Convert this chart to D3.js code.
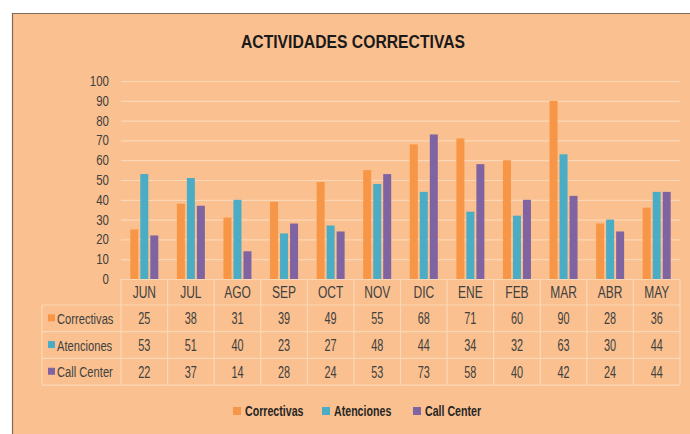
<!DOCTYPE html>
<html>
<head>
<meta charset="utf-8">
<script src="https://cdn.jsdelivr.net/npm/d3@7"></script>
<style>
  body { margin: 0; background: #fff; }
  svg text { font-family: "Liberation Sans", Arial, sans-serif; }
</style>
</head>
<body>
<div id="chart"></div>
<script>
const months = ['JUN', 'JUL', 'AGO', 'SEP', 'OCT', 'NOV', 'DIC', 'ENE', 'FEB', 'MAR', 'ABR', 'MAY'];
const seriesNames = ['Correctivas', 'Atenciones', 'Call Center'];
const correctivas = [25, 38, 31, 39, 49, 55, 68, 71, 60, 90, 28, 36];
const atenciones = [53, 51, 40, 23, 27, 48, 44, 34, 32, 63, 30, 44];
const callCenter = [22, 37, 14, 28, 24, 53, 73, 58, 40, 42, 24, 44];
const yTicks = [0, 10, 20, 30, 40, 50, 60, 70, 80, 90, 100];
const colors = ['#F79646', '#4BACC6', '#8064A2'];

const series = [correctivas, atenciones, callCenter];
const W = 690, H = 434;
const textColor = '#404040';
const gridColor = '#FCD7B6';

const svg = d3.select('#chart').append('svg')
  .attr('width', W).attr('height', H);

// no narrow font installed, so squeeze the regular one horizontally
function narrowText(parent, px, py, str, size, sx, anchor) {
  return parent.append('text')
    .attr('transform', `translate(${px},${py}) scale(${sx},1)`)
    .attr('text-anchor', anchor || 'start')
    .attr('font-size', size)
    .attr('fill', textColor)
    .text(str);
}

// chart area
svg.append('rect').attr('x', 12).attr('y', 13).attr('width', W - 12).attr('height', H - 13)
  .attr('fill', '#FAC08F');
svg.append('path').attr('d', `M12.5,${H}V13.5H${W}`)
  .attr('fill', 'none').attr('stroke', '#7d6a5c').attr('stroke-width', 1.2);

narrowText(svg, 353, 48, 'ACTIVIDADES CORRECTIVAS', 18.5, 0.85, 'middle')
  .attr('font-weight', 'bold').attr('fill', '#1a1a1a');

const x = d3.scaleBand().domain(months).range([121, 680]);
const y = d3.scaleLinear().domain([0, 100]).range([279, 81]);
const inner = d3.scaleBand().domain(d3.range(3)).range([0, 28]).paddingInner(0.2);

// gridlines
svg.append('g').selectAll('line')
  .data(yTicks.filter(d => d > 0))
  .join('line')
  .attr('x1', 121).attr('x2', 680)
  .attr('y1', d => y(d) + 0.5).attr('y2', d => y(d) + 0.5)
  .attr('stroke', gridColor).attr('stroke-width', 1.2);

// y axis labels
const yAxis = svg.append('g');
yTicks.forEach(t => narrowText(yAxis, 109, y(t) + 5, t, 14, 0.82, 'end'));

// bars
const off = (x.bandwidth() - 28) / 2;
series.forEach((vals, si) => {
  svg.append('g').selectAll('rect')
    .data(vals)
    .join('rect')
    .attr('x', (d, i) => x(months[i]) + off + inner(si))
    .attr('y', d => y(d))
    .attr('width', inner.bandwidth())
    .attr('height', d => y(0) - y(d))
    .attr('fill', colors[si]);
});

// data table
const rowTop = 279, headH = 26, rowH = 26.7, tableLeft = 42, tableRight = 680;
const table = svg.append('g');
const rowsBottom = rowTop + headH + rowH * 3;

function gridLine(x1, y1, x2, y2) {
  table.append('line').attr('x1', x1).attr('y1', y1).attr('x2', x2).attr('y2', y2)
    .attr('stroke', gridColor).attr('stroke-width', 1.2);
}
gridLine(121, rowTop + 0.5, tableRight, rowTop + 0.5);
d3.range(4).forEach(r => {
  const yy = rowTop + headH + rowH * r;
  gridLine(tableLeft, yy, tableRight, yy);
});
months.forEach(m => gridLine(x(m), rowTop, x(m), rowsBottom));
gridLine(tableRight, rowTop, tableRight, rowsBottom);
gridLine(tableLeft, rowTop + headH, tableLeft, rowsBottom);

// month labels
months.forEach(m => narrowText(table, x(m) + x.bandwidth() / 2, rowTop + headH / 2 + 6, m, 16, 0.75, 'middle'));

series.forEach((vals, si) => {
  const cy = rowTop + headH + rowH * si + rowH / 2;
  table.append('rect')
    .attr('x', 48).attr('y', cy - 4).attr('width', 7).attr('height', 7)
    .attr('fill', colors[si]);
  narrowText(table, 57, cy + 5.5, seriesNames[si], 15.5, 0.72);
  vals.forEach((v, i) => narrowText(table, x(months[i]) + x.bandwidth() / 2, cy + 6, v, 16, 0.68, 'middle'));
});

// legend
const legendX = [233, 322, 413];
const legend = svg.append('g');
seriesNames.forEach((name, i) => {
  legend.append('rect')
    .attr('x', legendX[i]).attr('y', 407).attr('width', 8).attr('height', 8)
    .attr('fill', colors[i]);
  narrowText(legend, legendX[i] + 12, 416, name, 14, 0.76)
    .attr('font-weight', 'bold').attr('fill', '#262626');
});
</script>
</body>
</html>
